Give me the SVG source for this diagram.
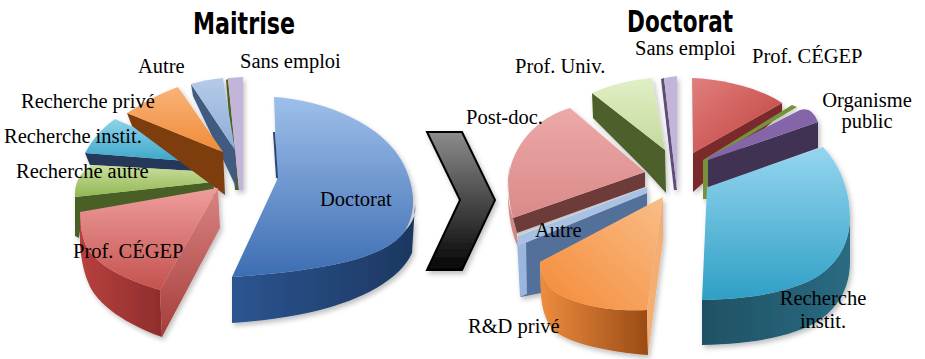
<svg xmlns="http://www.w3.org/2000/svg" width="925" height="359" viewBox="0 0 925 359">
<defs>
<style>
.title{font-family:"Liberation Sans Narrow","DejaVu Sans Condensed","Liberation Sans",sans-serif;font-weight:bold;font-size:30px;fill:#000}
.lbl{font-family:"Liberation Serif","DejaVu Serif",serif;font-size:20.5px;fill:#000}
</style>
<filter id="sh" x="-10%" y="-10%" width="130%" height="130%">
<feDropShadow dx="2" dy="3" stdDeviation="2.5" flood-color="#000" flood-opacity="0.25"/>
</filter>
<linearGradient id="docTop" x1="0" y1="0" x2="0" y2="1"><stop offset="0" stop-color="#9ebfea"/><stop offset="1" stop-color="#3d6db3"/></linearGradient>
<linearGradient id="docWall" x1="0" y1="0" x2="1" y2="0"><stop offset="0" stop-color="#2b5591"/><stop offset="1" stop-color="#1d3760"/></linearGradient>
<linearGradient id="redTop" x1="0" y1="0" x2="0" y2="1"><stop offset="0" stop-color="#ee9e9d"/><stop offset="1" stop-color="#c4514e"/></linearGradient>
<linearGradient id="redWall" x1="0" y1="0" x2="1" y2="0"><stop offset="0" stop-color="#b7413e"/><stop offset="1" stop-color="#8e2e2c"/></linearGradient>
<linearGradient id="redSide" x1="0" y1="0" x2="0" y2="1"><stop offset="0" stop-color="#d98482"/><stop offset="1" stop-color="#a53d3a"/></linearGradient>
<linearGradient id="grnTop" x1="0" y1="0" x2="0" y2="1"><stop offset="0" stop-color="#c8df9c"/><stop offset="1" stop-color="#93b653"/></linearGradient>
<linearGradient id="cyTop" x1="0" y1="0" x2="0" y2="1"><stop offset="0" stop-color="#8fd3ea"/><stop offset="1" stop-color="#3aa5c7"/></linearGradient>
<linearGradient id="orTop" x1="0" y1="0" x2="0" y2="1"><stop offset="0" stop-color="#f9b37a"/><stop offset="1" stop-color="#f08b37"/></linearGradient>
<linearGradient id="lbTop" x1="0" y1="0" x2="0" y2="1"><stop offset="0" stop-color="#b5cbe8"/><stop offset="1" stop-color="#8eacd8"/></linearGradient>
<linearGradient id="rcyTop" x1="0" y1="0" x2="0" y2="1"><stop offset="0" stop-color="#95d6ef"/><stop offset="1" stop-color="#2f9fc5"/></linearGradient>
<linearGradient id="rcyWall" x1="0" y1="0" x2="1" y2="0"><stop offset="0" stop-color="#1f5163"/><stop offset="1" stop-color="#2a6b82"/></linearGradient>
<linearGradient id="rredTop" x1="0" y1="0" x2="1" y2="1"><stop offset="0" stop-color="#e07f7d"/><stop offset="1" stop-color="#c0403d"/></linearGradient>
<linearGradient id="pinkTop" x1="0" y1="0" x2="0" y2="1"><stop offset="0" stop-color="#eca9a8"/><stop offset="1" stop-color="#d98a88"/></linearGradient>
<linearGradient id="rgrTop" x1="0" y1="0" x2="0" y2="1"><stop offset="0" stop-color="#e1efc6"/><stop offset="1" stop-color="#c4da9c"/></linearGradient>
<linearGradient id="rorTop" x1="1" y1="0" x2="0" y2="1"><stop offset="0" stop-color="#f9bd88"/><stop offset="1" stop-color="#f48a36"/></linearGradient>
<linearGradient id="rorWall" x1="0" y1="0" x2="1" y2="0"><stop offset="0" stop-color="#ee8d3f"/><stop offset="1" stop-color="#9a4b15"/></linearGradient>
<linearGradient id="chev" x1="0" y1="0" x2="0" y2="1"><stop offset="0" stop-color="#8c8c8c"/><stop offset="1" stop-color="#050505"/></linearGradient>
</defs>
<rect width="925" height="359" fill="#fff"/>

<text class="title" x="193" y="34" textLength="102" lengthAdjust="spacingAndGlyphs">Maitrise</text>
<text class="title" x="627" y="32" textLength="106" lengthAdjust="spacingAndGlyphs">Doctorat</text>

<g id="pie-maitrise" filter="url(#sh)">
 <g id="m-sans-emploi">
  <path d="M226,80 L228,79 L239,190 L235,190 Z" fill="#4f6228"/>
  <path d="M228,78 L243,77 L243,190 L239,190 Z" fill="#c3b5da"/>
 </g>
 <g id="m-autre">
  <path d="M191,84 L235,150 L237,189 L193,96 Z" fill="#3f5a80"/>
  <path d="M191,84 C201,81 212,79 223,78 L235,150 Z" fill="url(#lbTop)"/>
 </g>
 <g id="m-recherche-instit">
  <path d="M85,153 L212,163 L213,172 L90,165 Z" fill="#27385a"/>
  <path d="M115,119 L213,162 L212,163 L85,153 C92,140 102,128 115,119 Z" fill="url(#cyTop)"/>
 </g>
 <g id="m-recherche-autre">
  <path d="M75,197 L213,182 L215,196 L82,215 L79,238 L75,236 Z" fill="#4a5f26"/>
  <path d="M92,165 L213,172 L213,182 L75,197 C74,185 79,172 92,165 Z" fill="url(#grnTop)"/>
 </g>
 <g id="m-recherche-prive">
  <path d="M127,113 L223,152 L225,195 L132,126 Z" fill="#7e3d0e"/>
  <path d="M127,113 C143,103 160,93 178,87 L223,152 Z" fill="url(#orTop)"/>
 </g>
 <g id="m-prof-cegep">
  <path d="M80,212 C80,222 81,231 84,240 C90,262 120,278 160,290 L162,337 C128,325 96,305 88,282 C83,270 81,256 80,246 Z" fill="url(#redWall)"/>
  <path d="M218,188 L220,228 L162,337 L160,290 Z" fill="url(#redSide)"/>
  <path d="M80,212 L218,188 L160,290 C120,278 90,262 84,240 C81,231 80,222 80,212 Z" fill="url(#redTop)"/>
 </g>
 <g id="m-doctorat">
  <path d="M415,205 C416,213 414,221 405,231 C385,258 330,270 232,277 L232,323 C262,321 292,317 320,310 C360,300 400,280 412,253 Z" fill="url(#docWall)"/>
  <path d="M274,97 C325,100 385,125 404,165 C416,190 416,213 405,231 C385,258 330,270 232,277 L277,180 Z" fill="url(#docTop)"/>
  <path d="M274,132 L277,178" stroke="#2a4a7a" stroke-width="2" fill="none"/>
 </g>
</g>

<g id="chevron">
 <polygon points="427,132 462,132 495,200 462,270 427,270 460,200" fill="url(#chev)" stroke="#000" stroke-width="2" stroke-linejoin="miter" filter="url(#sh)"/>
</g>

<g id="pie-doctorat" filter="url(#sh)">
 <g id="d-sans-emploi">
  <path d="M661,79 L664,78 L677,190 L674,190 Z" fill="#5e4d78"/>
  <path d="M664,78 L677,76 L677,190 Z" fill="#c3b5da"/>
 </g>
 <g id="d-prof-univ">
  <path d="M592,93 L665,150 L666,193 L647,172 L593,118 Z" fill="#4d5f2a"/>
  <path d="M592,93 C610,85 630,80 652,78 L665,150 Z" fill="url(#rgrTop)"/>
 </g>
 <g id="d-prof-cegep">
  <path d="M693,153 L782,103 L782,113 L693,192 Z" fill="#7a2b29"/>
  <path d="M692,78 C722,79 760,88 782,103 L693,153 Z" fill="url(#rredTop)"/>
 </g>
 <g id="d-olive">
  <path d="M703,160 L792,105 L797,107 L708,160 L708,199 L703,199 Z" fill="#76923c"/>
 </g>
 <g id="d-recherche-instit">
  <path d="M850,217 C850,250 830,272 807,282 C780,294 745,299 702,300 L702,345 C745,344 780,339 807,327 C830,317 850,295 850,262 Z" fill="url(#rcyWall)"/>
  <path d="M707,187 L823,147 C840,165 850,190 850,217 C850,250 830,272 807,282 C780,294 745,299 702,300 Z" fill="url(#rcyTop)"/>
 </g>
 <g id="d-organisme-public">
  <path d="M708,160 L818,122 L818,148 L708,187 Z" fill="#3f3152"/>
  <path d="M708,157 L800,110 Q812,106 818,122 L708,160 Z" fill="#8466a8"/>
 </g>
 <g id="d-post-doc">
  <path d="M510,165 C506,185 508,205 513,218 L517,233 L518,247 C512,235 508,215 508,195 Z" fill="#cf8a88"/>
  <path d="M513,218 L645,172 L645,187 L517,233 Z" fill="#6e3b3a"/>
  <path d="M570,108 C545,115 520,135 511,165 C507,180 508,200 513,218 L645,172 Z" fill="url(#pinkTop)"/>
 </g>
 <g id="d-autre">
  <path d="M518,245 L647,193 L647,208 L540,262 L541,293 L521,297 Z" fill="#536f9b"/>
  <path d="M517,240 L526,242 L527,294 L520,297 Z" fill="#9ab6dc"/>
  <path d="M518,236 L647,187 L647,193 L518,246 Z" fill="#a9c2e3"/>
 </g>
 <g id="d-rd-prive">
  <path d="M540,262 C541,272 545,283 555,292 C575,305 610,312 647,310 L648,355 C610,352 575,345 555,332 C545,322 541,305 541,293 Z" fill="url(#rorWall)"/>
  <path d="M663,197 L663,240 L648,355 L647,310 Z" fill="#f5ae72"/>
  <path d="M540,262 L663,197 L647,310 C610,312 575,305 555,292 C545,283 541,272 540,262 Z" fill="url(#rorTop)"/>
 </g>
</g>

<g id="labels">
 <text class="lbl" x="138" y="73">Autre</text>
 <text class="lbl" x="240" y="68">Sans emploi</text>
 <text class="lbl" x="21" y="108">Recherche privé</text>
 <text class="lbl" x="4" y="143">Recherche instit.</text>
 <text class="lbl" x="16" y="178">Recherche autre</text>
 <text class="lbl" x="73" y="258">Prof. CÉGEP</text>
 <text class="lbl" x="320" y="206">Doctorat</text>
 <text class="lbl" x="635" y="55">Sans emploi</text>
 <text class="lbl" x="515" y="73">Prof. Univ.</text>
 <text class="lbl" x="752" y="63">Prof. CÉGEP</text>
 <text class="lbl" x="867" y="107" text-anchor="middle">Organisme</text>
 <text class="lbl" x="867" y="128" text-anchor="middle">public</text>
 <text class="lbl" x="466" y="124">Post-doc.</text>
 <text class="lbl" x="535" y="237">Autre</text>
 <text class="lbl" x="468" y="333">R&amp;D privé</text>
 <text class="lbl" x="823" y="305" text-anchor="middle">Recherche</text>
 <text class="lbl" x="823" y="328" text-anchor="middle">instit.</text>
</g>
</svg>
